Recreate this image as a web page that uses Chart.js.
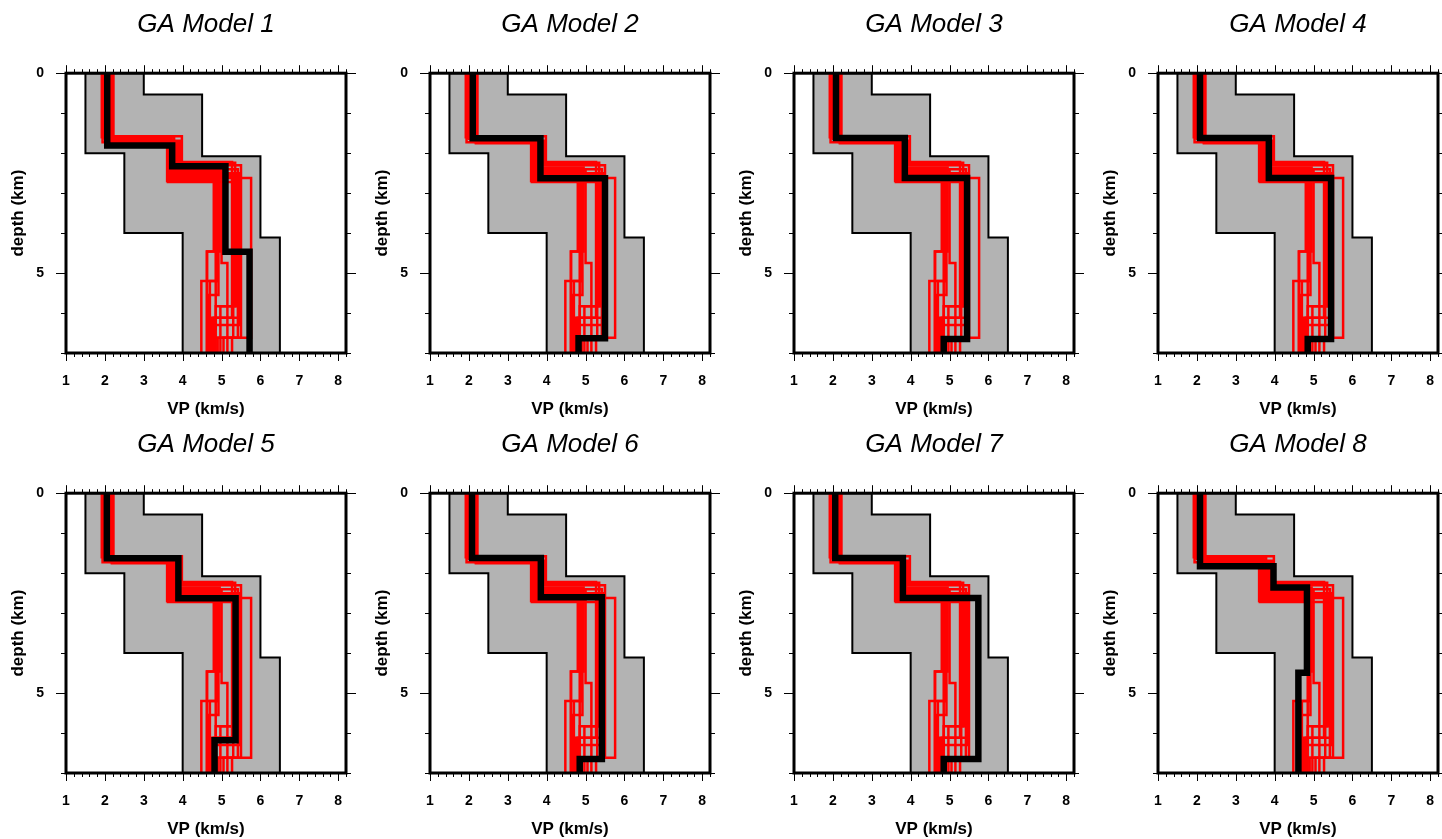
<!DOCTYPE html>
<html>
<head>
<meta charset="utf-8">
<script src="https://cdn.jsdelivr.net/npm/chart.js"></script>
<style>
  html, body { margin: 0; padding: 0; background: #fff; overflow: hidden; }
  #wrap { position: relative; width: 1442px; height: 839px; }
  canvas { position: absolute; }
</style>
</head>
<body>
<div id="wrap"></div>
<script>
// panel titles
const panelTitles = ["GA Model 1", "GA Model 2", "GA Model 3", "GA Model 4",
                     "GA Model 5", "GA Model 6", "GA Model 7", "GA Model 8"];

// axis ticks
const vpTicks = [1, 2, 3, 4, 5, 6, 7, 8];
const depthTicks = [0, 5];

// search bounds (layer velocities, interface depths)
const boundMinVp = [1.5, 2.5, 4.0];
const boundMinDepth = [2.0, 4.0];
const boundMaxVp = [3.0, 4.5, 6.0, 6.5];
const boundMaxDepth = [0.53, 2.08, 4.11];

// best model of each run (black)
const bestVp = [
  [2.06, 3.73, 5.10, 5.72],
  [2.10, 3.84, 5.50, 4.82],
  [2.08, 3.85, 5.45, 4.85],
  [2.08, 3.85, 5.45, 4.85],
  [2.05, 3.89, 5.36, 4.82],
  [2.08, 3.85, 5.42, 4.85],
  [2.06, 3.80, 5.74, 4.85],
  [2.08, 3.97, 4.83, 4.61]
];
const bestDepth = [
  [1.81, 2.33, 4.47],
  [1.63, 2.63, 6.63],
  [1.62, 2.62, 6.65],
  [1.62, 2.62, 6.65],
  [1.63, 2.63, 6.18],
  [1.62, 2.60, 6.65],
  [1.62, 2.62, 6.65],
  [1.83, 2.36, 4.49]
];

// ensemble of good models (red)
const ensVp = [
  [1.92, 3.60, 4.88, 4.48],
  [1.96, 3.64, 4.80, 4.62],
  [2.00, 3.68, 5.30, 4.75],
  [2.04, 3.72, 5.38, 4.97],
  [2.08, 3.76, 5.45, 4.75],
  [2.12, 3.80, 5.76, 4.90],
  [2.16, 3.84, 5.00, 5.15],
  [2.20, 3.88, 4.95, 4.63],
  [2.18, 3.92, 5.50, 5.27],
  [2.10, 3.96, 5.35, 4.85],
  [1.98, 3.98, 5.27, 4.80],
  [2.06, 3.70, 4.90, 4.70],
  [2.14, 3.66, 4.85, 4.78],
  [2.02, 3.78, 4.92, 4.68],
  [1.94, 3.86, 5.42, 5.05],
  [2.22, 3.62, 5.48, 4.72]
];
const ensDepth = [
  [1.60, 2.70, 5.20],
  [1.62, 2.66, 4.46],
  [1.64, 2.60, 6.62],
  [1.66, 2.55, 5.83],
  [1.68, 2.50, 6.12],
  [1.70, 2.62, 6.62],
  [1.72, 2.42, 4.75],
  [1.74, 2.36, 4.46],
  [1.75, 2.30, 6.62],
  [1.69, 2.24, 5.83],
  [1.58, 2.22, 6.12],
  [1.65, 2.68, 5.20],
  [1.71, 2.64, 6.40],
  [1.61, 2.47, 5.55],
  [1.73, 2.40, 6.62],
  [1.67, 2.72, 6.30]
];

const VP_MIN = 1, VP_MAX = 8.2, DEPTH_MAX = 7;

// turn layer velocities + interface depths into a step profile
function perfil(vp, depth) {
  const pts = [];
  let topo = 0;
  vp.forEach((v, i) => {
    const base = i < depth.length ? depth[i] : DEPTH_MAX;
    pts.push({ x: v, y: topo }, { x: v, y: base });
    topo = base;
  });
  return pts;
}

const esquerda = perfil(boundMinVp, boundMinDepth);
const direita = perfil(boundMaxVp, boundMaxDepth).reverse();
const envelope = [...esquerda, ...direita, esquerda[0]];

// frame + GMT style ticks on all four sides
const molduraPlugin = {
  id: "moldura",
  afterDraw(chart) {
    const { ctx, chartArea: a, scales: { x, y } } = chart;
    ctx.save();
    ctx.strokeStyle = "#000";
    ctx.lineWidth = 1;
    ctx.beginPath();
    for (let i = 0; i <= 36; i++) {
      const px = Math.round(x.getPixelForValue(VP_MIN + i * 0.2)) + 0.5;
      const len = i % 5 === 0 ? 8 : 4;
      ctx.moveTo(px, a.top); ctx.lineTo(px, a.top - len);
      ctx.moveTo(px, a.bottom); ctx.lineTo(px, a.bottom + len);
    }
    for (let d = 0; d <= DEPTH_MAX; d++) {
      const py = Math.round(y.getPixelForValue(d)) + 0.5;
      const len = d % 5 === 0 ? 10 : 5;
      ctx.moveTo(a.left, py); ctx.lineTo(a.left - len, py);
      ctx.moveTo(a.right, py); ctx.lineTo(a.right + len, py);
    }
    ctx.stroke();
    ctx.lineWidth = 3;
    ctx.strokeRect(a.left, a.top, a.right - a.left, a.bottom - a.top);
    ctx.restore();
  }
};

Chart.defaults.color = "#000";
Chart.defaults.font.family = "'Liberation Sans', Arial, Helvetica, sans-serif";

const wrap = document.getElementById("wrap");

panelTitles.forEach((titulo, p) => {
  const col = p % 4, lin = Math.floor(p / 4);
  const canvas = document.createElement("canvas");
  canvas.width = 364; canvas.height = 420;
  canvas.style.left = (col * 364) + "px";
  canvas.style.top = (lin * 420) + "px";
  wrap.appendChild(canvas);

  const datasets = [{
    data: perfil(bestVp[p], bestDepth[p]),
    showLine: true, borderColor: "#000", borderWidth: 6.5,
    borderJoinStyle: "miter", pointRadius: 0, fill: false, order: 1
  }];
  ensVp.forEach((vp, k) => {
    datasets.push({
      data: perfil(vp, ensDepth[k]),
      showLine: true, borderColor: "#ff0000", borderWidth: 2.5,
      borderJoinStyle: "miter", pointRadius: 0, fill: false, order: 2
    });
  });
  datasets.push({
    data: envelope,
    showLine: true, borderColor: "#000", borderWidth: 2,
    backgroundColor: "#b3b3b3", fill: "shape",
    borderJoinStyle: "miter", pointRadius: 0, order: 3
  });

  new Chart(canvas.getContext("2d"), {
    type: "scatter",
    data: { datasets },
    plugins: [molduraPlugin],
    options: {
      responsive: false,
      animation: false,
      devicePixelRatio: 1,
      layout: { padding: { top: 0, left: 0, right: 18, bottom: 0 } },
      plugins: {
        legend: { display: false },
        tooltip: { enabled: false },
        title: {
          display: true, text: titulo, fullSize: false,
          font: { size: 26, style: "italic", weight: "normal" },
          padding: { top: 9, bottom: 33 }
        }
      },
      scales: {
        x: {
          type: "linear", position: "bottom", min: VP_MIN, max: VP_MAX,
          afterBuildTicks: s => { s.ticks = vpTicks.map(v => ({ value: v })); },
          afterFit: s => { s.height = 67; },
          grid: { display: false, drawTicks: false },
          border: { display: false },
          ticks: { padding: 20, font: { size: 14, weight: "bold" } },
          title: { display: true, text: "VP (km/s)", padding: { top: 0, bottom: 0 },
                   font: { size: 17, weight: "bold" } }
        },
        y: {
          type: "linear", position: "left", min: 0, max: DEPTH_MAX, reverse: true,
          afterBuildTicks: s => { s.ticks = depthTicks.map(v => ({ value: v })); },
          afterFit: s => { s.width = 66; },
          grid: { display: false, drawTicks: false },
          border: { display: false },
          ticks: { padding: 22, font: { size: 14, weight: "bold" } },
          title: { display: true, text: "depth (km)", padding: { top: 8, bottom: 0 },
                   font: { size: 17, weight: "bold" } }
        }
      }
    }
  });
});
</script>
</body>
</html>
